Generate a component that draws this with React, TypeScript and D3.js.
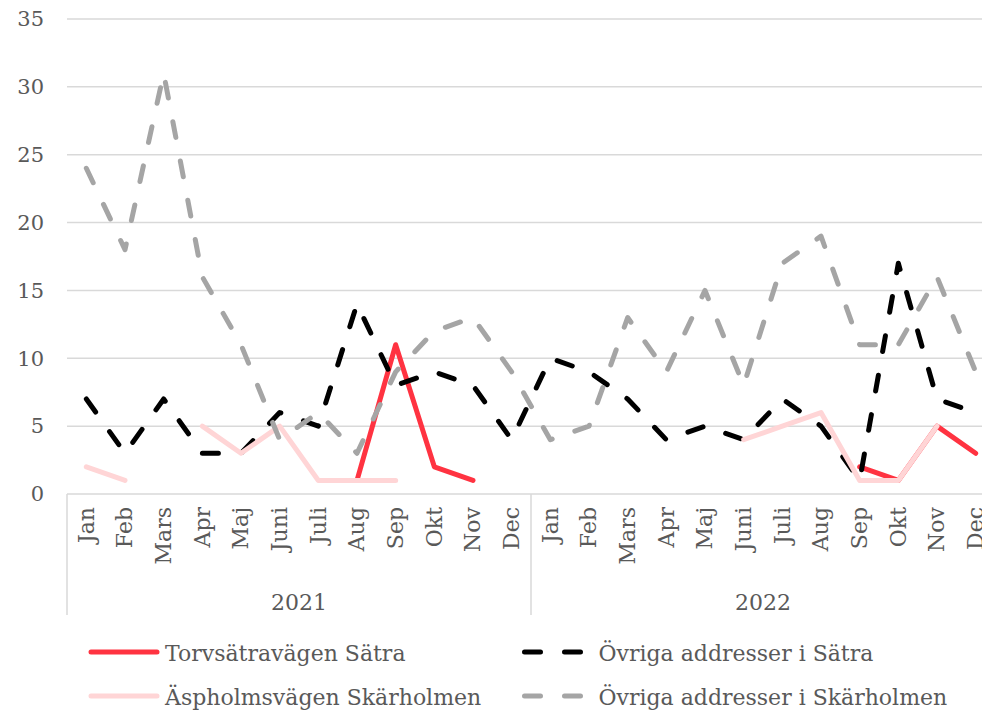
import React from "react";
import * as d3 from "d3";

const months = ["Jan", "Feb", "Mars", "Apr", "Maj", "Juni", "Juli", "Aug", "Sep", "Okt", "Nov", "Dec"];
const years = ["2021", "2022"];
const yTicks = [0, 5, 10, 15, 20, 25, 30, 35];

// values per month, Jan 2021 .. Dec 2022 (null = no value)
const torvsatra: (number | null)[] = [
  null, null, null, null, null, null, null, 1, 11, 2, 1, null,
  null, null, null, null, null, null, null, null, 2, 1, 5, 3,
];
const ovrigaSatra: (number | null)[] = [
  7, 3, 7, 3, 3, 6, 5, 14, 8, 9, 8, 4,
  10, 9, 7, 4, 5, 4, 7, 5, 1, 17, 7, 6,
];
const aspholms: (number | null)[] = [
  2, 1, null, 5, 3, 5, 1, 1, 1, null, null, null,
  null, null, null, null, null, 4, 5, 6, 1, 1, 5, null,
];
const ovrigaSkarholmen: (number | null)[] = [
  24, 18, 31, 16, 11, 4, 6, 3, 9, 12, 13, 9,
  4, 5, 13, 9, 15, 8, 17, 19, 11, 11, 16, 9,
];

const seriesNames = [
  "Torvsätravägen Sätra",
  "Övriga addresser i Sätra",
  "Äspholmsvägen Skärholmen",
  "Övriga addresser i Skärholmen",
];

const W = 982;
const H = 711;
const FONT = "'DejaVu Serif', serif";
const TEXT = "#595959";
const GRID = "#d9d9d9";

export default function App() {
  const left = 67;
  const right = 995;
  const top = 19;
  const bottom = 494;
  const catBottom = 615;

  const cats = d3.range(years.length * months.length);
  const x = d3.scaleBand<number>().domain(cats).range([left, right]).padding(0);
  const bw = x.bandwidth();
  const cx = (i: number) => (x(i) as number) + bw / 2;
  const y = d3.scaleLinear().domain([0, 35]).range([bottom, top]);

  const line = d3
    .line<number | null>()
    .defined((d) => d !== null)
    .x((_, i) => cx(i))
    .y((d) => y(d as number));

  const series = [
    { name: seriesNames[0], data: torvsatra, color: "#ff3341", dash: null },
    { name: seriesNames[1], data: ovrigaSatra, color: "#000000", dash: "16 24" },
    { name: seriesNames[2], data: aspholms, color: "#ffd5d6", dash: null },
    { name: seriesNames[3], data: ovrigaSkarholmen, color: "#a5a5a5", dash: "16 24" },
  ];

  const yearDividers = d3.range(years.length + 1).map((k) =>
    k < years.length ? (x(k * months.length) as number) : right
  );

  const legendPos = [
    { lx: 91, ly: 652 },
    { lx: 524.5, ly: 652 },
    { lx: 91, ly: 696 },
    { lx: 524.5, ly: 696 },
  ];

  return (
    <svg
      width={W}
      height={H}
      style={{ position: "absolute", left: 0, top: 0, background: "#fff" }}
      fontFamily={FONT}
    >
      <rect x={0} y={0} width={W} height={H} fill="#fff" />
      {/* gridlines */}
      {yTicks.map((t) => (
        <line key={"g" + t} x1={left} x2={right} y1={y(t)} y2={y(t)} stroke={GRID} strokeWidth={1.5} />
      ))}
      {/* y tick labels */}
      {yTicks.map((t) => (
        <text key={"yt" + t} x={44} y={y(t)} dy="0.35em" textAnchor="end" fontSize={21} fill={TEXT}>
          {t}
        </text>
      ))}
      {/* category box verticals */}
      {yearDividers.map((xv, k) => (
        <line key={"v" + k} x1={xv} x2={xv} y1={bottom} y2={catBottom} stroke={GRID} strokeWidth={1.5} />
      ))}
      {/* month labels */}
      {cats.map((i) => (
        <text
          key={"m" + i}
          transform={`translate(${cx(i)},507) rotate(-90)`}
          dy="0.33em"
          textAnchor="end"
          fontSize={22}
          fill={TEXT}
        >
          {months[i % months.length]}
        </text>
      ))}
      {/* year labels */}
      {years.map((yr, k) => (
        <text
          key={"y" + yr}
          x={(yearDividers[k] + yearDividers[k + 1]) / 2}
          y={610}
          textAnchor="middle"
          fontSize={22}
          fill={TEXT}
        >
          {yr}
        </text>
      ))}
      {/* series */}
      {series.map((s) => (
        <path
          key={s.name}
          d={line(s.data) || ""}
          fill="none"
          stroke={s.color}
          strokeWidth={5}
          strokeLinejoin="round"
          strokeLinecap="round"
          strokeDasharray={s.dash || undefined}
        />
      ))}
      {/* legend */}
      {series.map((s, k) => {
        const p = legendPos[k];
        return (
          <g key={"l" + k}>
            <line
              x1={p.lx}
              x2={p.lx + 66}
              y1={p.ly}
              y2={p.ly}
              stroke={s.color}
              strokeWidth={5}
              strokeLinecap="round"
              strokeDasharray={s.dash || undefined}
            />
            <text x={p.lx + 74} y={p.ly + 9} fontSize={22} fill={TEXT}>
              {s.name}
            </text>
          </g>
        );
      })}
    </svg>
  );
}
